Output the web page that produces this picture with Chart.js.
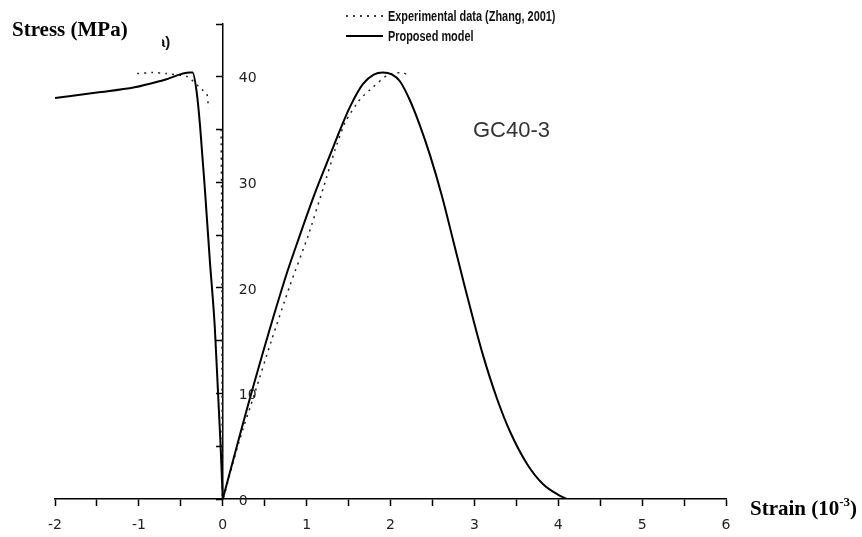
<!DOCTYPE html>
<html>
<head>
<meta charset="utf-8">
<script src="https://cdn.jsdelivr.net/npm/chart.js@4.4.0/dist/chart.umd.min.js"></script>
<style>
  html, body { margin: 0; padding: 0; background: #fff; }
</style>
</head>
<body>
<canvas id="stressChart" width="862" height="537"></canvas>
<script>
// proposed model, lateral branch (negative strain)
const lateralStrain = [-2.0, -1.5, -1.05, -0.7, -0.39, -0.36, -0.31, -0.27, -0.21, -0.155, -0.095, -0.056, -0.027, 0];
const lateralStress = [38.0, 38.5, 39.0, 39.7, 40.4, 40.4, 38.5, 35.3, 29.0, 22.7, 16.3, 10.0, 5.3, 0];

// proposed model, axial branch
const axialStrain = [0, 0.34, 0.74, 0.92, 1.10, 1.30, 1.40, 1.52, 1.67, 1.80, 1.91, 2.02, 2.11, 2.23, 2.35, 2.47,
  2.61, 2.75, 2.87, 2.99, 3.10, 3.27, 3.43, 3.63, 3.82, 4.00, 4.10];
const axialStress = [0, 10.0, 20.8, 25.0, 29.0, 33.0, 35.0, 37.2, 39.3, 40.2, 40.4, 40.2, 39.6, 37.8, 35.4, 32.6,
  28.8, 24.4, 20.6, 16.9, 13.7, 9.5, 6.3, 3.3, 1.4, 0.4, 0];

// experimental data (Zhang, 2001); null breaks the line
const expStrain = [-1.02, -0.84, -0.67, -0.42, -0.25, -0.19, -0.17, -0.17, -0.02, -0.015, -0.01, -0.008, -0.005, 0,
  0.1, 0.2, 0.38, 0.58, 0.8, 1.02, 1.2, 1.34, 1.46, 1.64, 1.79, 1.97, 2.14, 2.2];
const expStress = [40.3, 40.4, 40.3, 40.0, 38.8, 38.4, 37.0, null, 35.0, 30.0, 24.0, 6.5, 3.0, 0,
  2.8, 5.6, 10.0, 15.0, 20.2, 25.0, 29.5, 33.1, 35.7, 37.9, 39.0, 40.2, 40.4, 40.2];

const yLabels = [0, 10, 20, 30, 40];
const xLabels = [-2, -1, 0, 1, 2, 3, 4, 5, 6];

function toPoints(xs, ys) {
  return xs.map((x, i) => ({ x: x, y: ys[i] }));
}

const modelLine = {
  showLine: true,
  borderColor: '#000',
  borderWidth: 2,
  pointRadius: 0,
  cubicInterpolationMode: 'monotone'
};

const annotate = {
  id: 'annotate',
  afterDraw(chart) {
    const ctx = chart.ctx;
    const xs = chart.scales.x;
    const ys = chart.scales.y;
    const axisX = xs.getPixelForValue(0);
    ctx.save();

    // y tick labels sit on the right of the axis
    ctx.fillStyle = '#222';
    ctx.font = '14px "DejaVu Sans"';
    ctx.textAlign = 'left';
    ctx.textBaseline = 'middle';
    yLabels.forEach(v => ctx.fillText(String(v), axisX + 16, ys.getPixelForValue(v) + 2));

    ctx.textAlign = 'center';
    xLabels.forEach(v => ctx.fillText(String(v), xs.getPixelForValue(v), ys.bottom + 26));

    // axis titles
    ctx.fillStyle = '#000';
    ctx.textAlign = 'left';
    ctx.textBaseline = 'alphabetic';
    ctx.font = 'bold 21px "Liberation Serif"';
    ctx.fillText('Stress (MPa)', 12, 36);
    let tx = 750;
    ctx.fillText('Strain (10', tx, 515);
    tx += ctx.measureText('Strain (10').width;
    ctx.font = 'bold 13px "Liberation Serif"';
    ctx.fillText('-3', tx, 506);
    tx += ctx.measureText('-3').width;
    ctx.font = 'bold 21px "Liberation Serif"';
    ctx.fillText(')', tx, 515);

    ctx.fillStyle = '#333';
    ctx.font = '22px "Liberation Sans"';
    ctx.fillText('GC40-3', 473, 137);

    // the "a)" panel mark is cut off on its left in the source
    ctx.save();
    ctx.beginPath();
    ctx.rect(162, 30, 20, 22);
    ctx.clip();
    ctx.fillStyle = '#111';
    ctx.font = 'bold 15px "Liberation Sans"';
    ctx.fillText('a)', 157, 47);
    ctx.restore();

    // legend
    const rows = [
      { ds: chart.data.datasets[2], y: 16 },
      { ds: chart.data.datasets[1], y: 36 }
    ];
    rows.forEach(r => {
      ctx.beginPath();
      ctx.strokeStyle = '#000';
      ctx.lineWidth = r.ds.borderWidth;
      ctx.setLineDash(r.ds.borderDash || []);
      ctx.moveTo(346, r.y);
      ctx.lineTo(383, r.y);
      ctx.stroke();
      ctx.setLineDash([]);
      ctx.save();
      ctx.translate(388, r.y + 5);
      ctx.scale(0.78, 1);
      ctx.font = 'bold 14px "Liberation Sans"';
      ctx.fillStyle = '#111';
      ctx.fillText(r.ds.label, 0, 0);
      ctx.restore();
    });
    ctx.restore();
  }
};

new Chart(document.getElementById('stressChart'), {
  type: 'scatter',
  data: {
    datasets: [
      Object.assign({ label: 'Proposed model (lateral)', data: toPoints(lateralStrain, lateralStress) }, modelLine),
      Object.assign({ label: 'Proposed model', data: toPoints(axialStrain, axialStress) }, modelLine),
      {
        label: 'Experimental data (Zhang, 2001)',
        data: toPoints(expStrain, expStress),
        showLine: true,
        spanGaps: false,
        borderColor: '#222',
        borderWidth: 1.5,
        borderDash: [2, 5],
        pointRadius: 0,
        tension: 0.2
      }
    ]
  },
  options: {
    responsive: false,
    animation: false,
    layout: { padding: { left: 55, right: 136, top: 24, bottom: 31 } },
    plugins: { legend: { display: false }, tooltip: { enabled: false } },
    scales: {
      x: {
        type: 'linear',
        position: 'bottom',
        min: -2,
        max: 6,
        grid: { drawOnChartArea: false, tickLength: 7, tickColor: '#000', tickWidth: 1.5 },
        border: { color: '#000', width: 1.5 },
        ticks: { stepSize: 0.5, autoSkip: false, display: false }
      },
      y: {
        type: 'linear',
        position: { x: 0 },
        min: 0,
        max: 45,
        grid: { drawOnChartArea: false, tickLength: 6, tickColor: '#000', tickWidth: 1.5 },
        border: { color: '#000', width: 1.5 },
        ticks: { stepSize: 5, display: false }
      }
    }
  },
  plugins: [annotate]
});
</script>
</body>
</html>
